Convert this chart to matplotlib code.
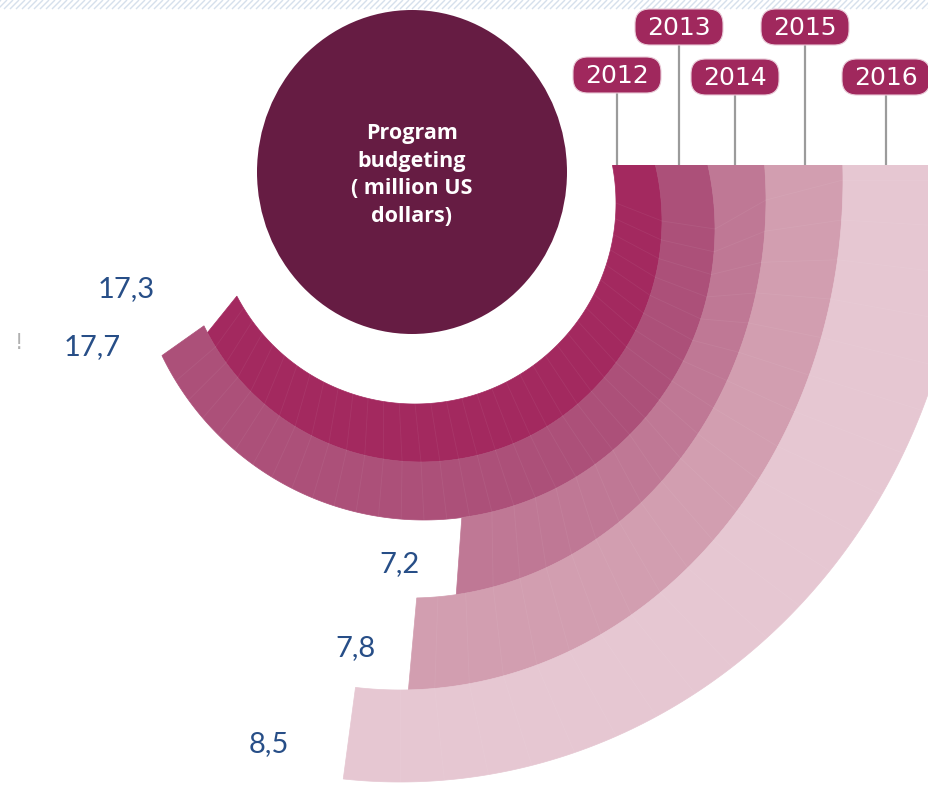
import numpy as np
import matplotlib
matplotlib.use("Agg")
import matplotlib.pyplot as plt
from matplotlib.patches import Polygon, Ellipse, Rectangle, FancyBboxPatch
from matplotlib import font_manager as fm

# ---------------- data ----------------
years = ["2012", "2013", "2014", "2015", "2016"]
values = [17.3, 17.7, 7.2, 7.8, 8.5]
value_labels = ["17,3", "17,7", "7,2", "7,8", "8,5"]
center_title = "Program\nbudgeting\n( million US\ndollars)"

# ---------------- style / layout (pixels) ----------------
W, H = 929, 792
band_colors = ["#a3295f", "#ac5079", "#bf7895", "#d29eb0", "#e6c7d2"]
tag_color = "#a0285d"
circle_color = "#661c43"
label_color = "#274e87"

# ring boundaries: (cx, cy, rx, ry) from inner edge of first ring outward
boundaries = [
    (415, 203, 201, 201),
    (421, 221, 241, 241),
    (424, 229, 291, 291),
    (410, 200, 356, 398),
    (400, 180, 443, 510),
    (400, 180, 565, 602),
]
clip_top = 165
# angular scale of the infographic (degrees, clockwise from 3 o'clock)
ANG_A, ANG_B = -74.8, 79.7


def value_to_angle(v):
    return ANG_A + ANG_B * np.log(v)


tag_pos = [(617, 75), (679, 27), (735, 77), (805, 27), (886, 77)]
label_pos = [(126, 289), (92, 347), (400, 564), (356, 648), (269, 744)]

names = {f.name for f in fm.fontManager.ttflist}
label_font = "Liberation Sans Narrow" if "Liberation Sans Narrow" in names else "Lato"

fig = plt.figure(figsize=(W / 100, H / 100), dpi=100)
ax = fig.add_axes([0, 0, 1, 1])
ax.set_xlim(0, W)
ax.set_ylim(H, 0)
ax.axis("off")

# top hatched strip
for x in np.arange(-20, W + 20, 6):
    ax.plot([x, x + 9], [9, 0], color="#d6e0ec", lw=1.0, zorder=0,
            solid_capstyle="butt")

clip = Rectangle((0, clip_top), W, H - clip_top, transform=ax.transData)

# rings
for i, v in enumerate(values):
    t = np.radians(np.linspace(-40, value_to_angle(v), 400))
    cx0, cy0, rx0, ry0 = boundaries[i]
    cx1, cy1, rx1, ry1 = boundaries[i + 1]
    inner = np.c_[cx0 + rx0 * np.cos(t), cy0 + ry0 * np.sin(t)]
    outer = np.c_[cx1 + rx1 * np.cos(t), cy1 + ry1 * np.sin(t)]
    poly = Polygon(np.vstack([inner, outer[::-1]]), closed=True,
                   fc=band_colors[i], ec=band_colors[i], lw=0.5, zorder=2)
    ax.add_patch(poly)
    poly.set_clip_path(clip)
    # faint radial texture
    for a in np.arange(0, value_to_angle(v) - 2, 4.5):
        ta = np.radians(a)
        ln, = ax.plot([cx0 + rx0 * np.cos(ta), cx1 + rx1 * np.cos(ta)],
                      [cy0 + ry0 * np.sin(ta), cy1 + ry1 * np.sin(ta)],
                      color="white", lw=0.6, alpha=0.06, zorder=3)
        ln.set_clip_path(clip)

# year tags with stems
for (tx, ty), yr in zip(tag_pos, years):
    ax.plot([tx, tx], [ty + 18, clip_top], color="#9b9b9b", lw=1.6, zorder=1)
    box = FancyBboxPatch((tx - 44, ty - 18), 88, 36,
                         boxstyle="round,pad=0,rounding_size=15",
                         fc=tag_color, ec="#e8c9d6", lw=0.8, zorder=4)
    ax.add_patch(box)
    ax.text(tx, ty + 1, yr, ha="center", va="center", color="white",
            fontsize=18, family="DejaVu Sans", zorder=5)

# centre circle
ax.add_patch(Ellipse((412, 172), 310, 324, fc=circle_color, ec="none", zorder=4))
ax.text(412, 175, center_title, ha="center", va="center", color="white",
        fontsize=15.5, fontweight="bold", family="Open Sans",
        linespacing=1.42, zorder=5)

# value labels
for (lx, ly), lab in zip(label_pos, value_labels):
    ax.text(lx, ly, lab, ha="center", va="center", color=label_color,
            fontsize=21, family=label_font, zorder=5)

ax.text(19, 343, "!", ha="center", va="center", color="#b0b0b0",
        fontsize=15, family="DejaVu Sans")

fig.savefig("out.png", dpi=100)
